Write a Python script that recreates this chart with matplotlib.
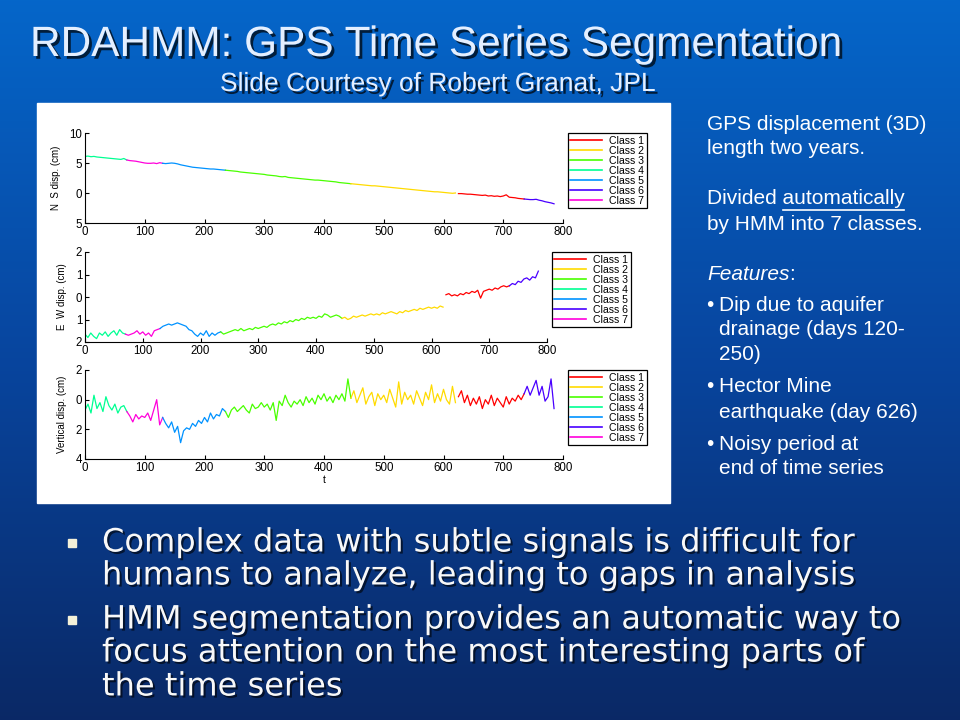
import numpy as np
import matplotlib
matplotlib.use("Agg")
import matplotlib.pyplot as plt
import matplotlib.patheffects as pe
from matplotlib.colors import LinearSegmentedColormap, hsv_to_rgb
from matplotlib.lines import Line2D
from matplotlib.patches import Rectangle

W, H = 960, 720

# -----------------------
# data (read off the slide, sampled every 5 days)
# -----------------------
days = np.arange(0, 786, 5)

ns_disp = [
    6.10, 6.15, 6.05, 6.10, 6.00, 5.95, 5.90, 5.85, 5.80, 5.75,
    5.70, 5.65, 5.60, 5.75, 5.50, 5.40, 5.35, 5.30, 5.20, 5.10,
    5.00, 4.95, 4.95, 5.00, 4.90, 5.05, 4.95, 4.90, 4.95, 5.00,
    4.95, 4.85, 4.70, 4.60, 4.50, 4.40, 4.30, 4.25, 4.20, 4.15,
    4.10, 4.05, 4.00, 4.00, 3.95, 3.90, 3.85, 3.80, 3.75, 3.70,
    3.65, 3.60, 3.50, 3.45, 3.40, 3.35, 3.30, 3.25, 3.20, 3.15,
    3.10, 3.00, 2.95, 2.90, 2.85, 2.75, 2.70, 2.75, 2.60, 2.55,
    2.50, 2.45, 2.40, 2.35, 2.30, 2.25, 2.20, 2.15, 2.15, 2.10,
    2.05, 2.00, 1.95, 1.90, 1.85, 1.75, 1.70, 1.65, 1.60, 1.55,
    1.50, 1.45, 1.40, 1.35, 1.30, 1.25, 1.20, 1.20, 1.15, 1.10,
    1.05, 1.00, 0.95, 0.90, 0.85, 0.80, 0.75, 0.70, 0.65, 0.60,
    0.55, 0.50, 0.45, 0.40, 0.35, 0.30, 0.25, 0.20, 0.20, 0.15,
    0.10, 0.05, 0.00, -0.05, 0.00, -0.10, -0.10, -0.15, -0.20, -0.20,
    -0.25, -0.30, -0.35, -0.40, -0.35, -0.50, -0.45, -0.55, -0.50, -0.60,
    -0.50, -0.30, -0.70, -0.75, -0.80, -0.90, -0.95, -1.00, -1.05, -1.10,
    -1.10, -1.05, -1.20, -1.30, -1.45, -1.55, -1.65, -1.80,
]

ew_disp = [
    -1.65, -1.80, -1.60, -1.75, -1.85, -1.60, -1.70, -1.55, -1.75, -1.60,
    -1.50, -1.70, -1.45, -1.60, -1.65, -1.70, -1.65, -1.60, -1.50, -1.65,
    -1.55, -1.70, -1.60, -1.75, -1.50, -1.45, -1.40, -1.30, -1.25, -1.20,
    -1.25, -1.20, -1.15, -1.20, -1.25, -1.30, -1.45, -1.50, -1.65, -1.75,
    -1.60, -1.70, -1.50, -1.75, -1.60, -1.70, -1.60, -1.55, -1.65, -1.60,
    -1.55, -1.50, -1.45, -1.50, -1.40, -1.50, -1.45, -1.40, -1.45, -1.35,
    -1.40, -1.35, -1.30, -1.35, -1.25, -1.20, -1.25, -1.15, -1.20, -1.10,
    -1.15, -1.05, -1.10, -1.00, -1.05, -0.95, -1.00, -0.90, -0.95, -0.90,
    -0.95, -0.85, -0.90, -0.75, -0.80, -0.90, -0.85, -0.80, -0.85, -0.95,
    -0.90, -1.00, -0.95, -0.85, -0.90, -0.85, -0.80, -0.85, -0.80, -0.75,
    -0.80, -0.75, -0.80, -0.70, -0.75, -0.70, -0.65, -0.70, -0.75, -0.65,
    -0.70, -0.60, -0.65, -0.60, -0.55, -0.60, -0.50, -0.55, -0.50, -0.45,
    -0.50, -0.45, -0.50, -0.40, -0.45, 0.10, 0.15, 0.05, 0.10, 0.05,
    0.15, 0.10, 0.20, 0.15, 0.25, 0.20, 0.30, -0.05, 0.25, 0.30,
    0.35, 0.30, 0.40, 0.35, 0.45, 0.50, 0.45, 0.50, 0.60, 0.55,
    0.70, 0.65, 0.80, 0.85, 0.75, 0.90, 0.85, 1.15,
]

vert_disp = [
    -0.7, -0.3, -0.9, 0.3, -0.6, -0.2, -0.8, 0.2, -0.4, -0.7,
    -0.3, -0.9, -0.5, -0.4, -0.8, -1.1, -1.5, -1.0, -1.3, -1.1,
    -1.2, -0.9, -1.4, -0.7, 0.0, -1.7, -1.2, -1.6, -1.9, -1.5,
    -2.2, -1.8, -2.9, -2.1, -1.9, -2.0, -1.6, -1.8, -1.4, -1.6,
    -1.2, -1.5, -0.9, -1.3, -1.0, -1.1, -0.6, -0.8, -1.2, -0.7,
    -0.5, -0.8, -0.6, -0.4, -0.7, -0.9, -0.3, -0.6, -0.5, -0.2,
    -0.5, -0.3, -0.7, -0.2, -1.4, -0.1, -0.4, 0.3, -0.2, -0.5,
    -0.1, -0.3, 0.0, -0.4, 0.2, -0.2, 0.1, -0.3, 0.3, 0.0,
    0.4, -0.1, 0.2, -0.2, 0.3, 0.0, 0.4, -0.1, 1.4, 0.1,
    0.6, -0.2, 0.3, 0.8, -0.3, 0.2, 0.5, -0.4, 0.4, 0.0,
    0.3, -0.2, 0.7, 0.1, -0.5, 1.2, -0.3, 0.5, 0.0, 0.3,
    -0.3, 0.6, 0.1, -0.4, 0.5, 0.0, 1.0, -0.2, 0.4, -0.1,
    0.7, 0.0, -0.3, 0.9, -0.2, 0.2, 0.6, -0.2, 0.3, -0.4,
    0.1, -0.3, 0.2, -0.6, 0.0, -0.3, 0.3, -0.4, 0.1, -0.2,
    -0.5, 0.2, -0.3, 0.1, -0.1, 0.3, 0.0, 0.4, 0.9, 0.3,
    0.8, 1.3, 0.3, 0.9, -0.1, 0.2, 1.4, -0.6,
]

# HMM segmentation: start day, end day, class
seg_start = [0, 70, 130, 235, 445, 625, 735]
seg_end = [70, 130, 235, 445, 620, 735, 785]
seg_class = [4, 7, 5, 3, 2, 1, 6]

class_names = ["Class 1", "Class 2", "Class 3", "Class 4", "Class 5", "Class 6", "Class 7"]
# MATLAB hsv(7)
class_colors = [hsv_to_rgb((k / 7.0, 1, 1)) for k in range(7)]

xticks = [0, 100, 200, 300, 400, 500, 600, 700, 800]

# -----------------------
# slide background
# -----------------------
fig = plt.figure(figsize=(W / 100, H / 100), dpi=100)
bg = fig.add_axes([0, 0, 1, 1])
bg.set_xlim(0, 1)
bg.set_ylim(0, 1)
bg.axis("off")
grad_cmap = LinearSegmentedColormap.from_list(
    "slide", [(0.04, 0.16, 0.40), (0.03, 0.27, 0.62), (0.02, 0.40, 0.79)])
bg.imshow(np.linspace(0, 1, 256).reshape(-1, 1), cmap=grad_cmap, aspect="auto",
          extent=[0, 1, 0, 1], origin="lower")


def fx(x):
    return x / W


def fy(y):
    return 1 - y / H


bg.add_patch(Rectangle((fx(37), fy(503)), 633 / W, 400 / H, color="white", zorder=2))

shadow = [pe.withSimplePatchShadow(offset=(2, -2), shadow_rgbFace="black", alpha=0.7)]
title_col = "#e4efff"
bg.text(fx(30), fy(45), "RDAHMM: GPS Time Series Segmentation", family="Liberation Sans",
        fontsize=30.5, color=title_col, va="center", ha="left", path_effects=shadow, zorder=3)
bg.text(fx(220), fy(84), "Slide Courtesy of Robert Granat, JPL", family="Liberation Sans",
        fontsize=19, color=title_col, va="center", ha="left", path_effects=shadow, zorder=3)

# -----------------------
# right-hand notes
# -----------------------
rfont = dict(family="Liberation Sans", fontsize=15, color="white", va="center", ha="left", zorder=3)
bg.text(fx(707), fy(124), "GPS displacement (3D)", **rfont)
bg.text(fx(707), fy(148), "length two years.", **rfont)
t_div = bg.text(fx(707), fy(199), "Divided automatically", **rfont)
bg.text(fx(707), fy(224), "by HMM into 7 classes.", **rfont)
t_feat = bg.text(fx(707), fy(274), "Features", style="italic", **rfont)

renderer = fig.canvas.get_renderer()
probe = bg.text(0, 0, "Divided", **rfont)
w_div = probe.get_window_extent(renderer).width
probe.remove()
ext = t_div.get_window_extent(renderer)
u_x0 = ext.x0 + w_div + 15 * 100 / 72 * 0.278
bg.add_line(Line2D([u_x0 / W, (ext.x1 - 1) / W], [fy(210), fy(210)], color="white", lw=1.2, zorder=3))
fe = t_feat.get_window_extent(renderer)
bg.text(fe.x1 / W, fy(274), ":", **rfont)

notes = [(305, True, "Dip due to aquifer"), (330, False, "drainage (days 120-"), (354, False, "250)"),
         (387, True, "Hector Mine"), (412, False, "earthquake (day 626)"),
         (444, True, "Noisy period at"), (469, False, "end of time series")]
for ny, has_bullet, txt in notes:
    if has_bullet:
        bg.text(fx(706), fy(ny), "\u2022", **rfont)
    bg.text(fx(719), fy(ny), txt, **rfont)

# -----------------------
# bottom bullets
# -----------------------
bfont = dict(family="DejaVu Sans", fontsize=23.1, color="#f8f8f8", va="center", ha="left", zorder=3,
             path_effects=[pe.withSimplePatchShadow(offset=(1.5, -1.5), shadow_rgbFace="black", alpha=0.6)])
bullet_lines = [(543, True, "Complex data with subtle signals is difficult for"),
                (576, False, "humans to analyze, leading to gaps in analysis"),
                (620, True, "HMM segmentation provides an automatic way to"),
                (653, False, "focus attention on the most interesting parts of"),
                (687, False, "the time series")]
for by, has_bullet, txt in bullet_lines:
    if has_bullet:
        bg.add_patch(Rectangle((fx(68), fy(by + 4)), 8 / W, 8 / H, color="#f4f1d8", zorder=3))
    bg.text(fx(102), fy(by), txt, **bfont)


# -----------------------
# the three GPS panels
# -----------------------
def panel(left, top, right, bottom, values, ylim, yticks, yticklabels, ylabel, show_t=False):
    ax = fig.add_axes([fx(left), fy(bottom), (right - left) / W, (bottom - top) / H])
    ax.set_facecolor("white")
    vals = np.array(values)
    for s, e, c in zip(seg_start, seg_end, seg_class):
        m = (days >= s) & (days <= e)
        ax.plot(days[m], vals[m], color=class_colors[c - 1], lw=0.9)
    ax.set_xlim(0, 800)
    ax.set_ylim(*ylim)
    ax.set_xticks(xticks)
    ax.set_yticks(yticks)
    ax.set_yticklabels(yticklabels)
    for sp in ["top", "right"]:
        ax.spines[sp].set_visible(False)
    for sp in ["left", "bottom"]:
        ax.spines[sp].set_linewidth(0.8)
    ax.tick_params(direction="in", length=3, width=0.8, labelsize=8.3, pad=2)
    for lab in ax.get_xticklabels() + ax.get_yticklabels():
        lab.set_family("Liberation Sans")
    ax.set_ylabel(ylabel, fontsize=7, family="Liberation Sans", labelpad=6)
    if show_t:
        ax.set_xlabel("t", fontsize=7.5, family="Liberation Sans", labelpad=1)
    handles = [Line2D([], [], color=class_colors[k], lw=1.2) for k in range(7)]
    leg = ax.legend(handles, class_names, loc="upper left", bbox_to_anchor=(1.01, 1.0),
                    prop={"family": "Liberation Sans", "size": 7.6}, frameon=True,
                    fancybox=False, edgecolor="black", framealpha=1, borderpad=0.25,
                    labelspacing=0.0, handlelength=3.0, handletextpad=0.7, borderaxespad=0)
    leg.get_frame().set_linewidth(0.9)
    return ax


panel(85, 133, 563, 223, ns_disp, (-5, 10), [-5, 0, 5, 10], ["5", "0", "5", "10"], "N  S disp. (cm)")
panel(85, 252, 547, 342, ew_disp, (-2, 2), [-2, -1, 0, 1, 2], ["2", "1", "0", "1", "2"], "E  W disp. (cm)")
panel(85, 370, 563, 459, vert_disp, (-4, 2), [-4, -2, 0, 2], ["4", "2", "0", "2"],
      "Vertical disp. (cm)", show_t=True)

fig.savefig("out.png", dpi=100)
